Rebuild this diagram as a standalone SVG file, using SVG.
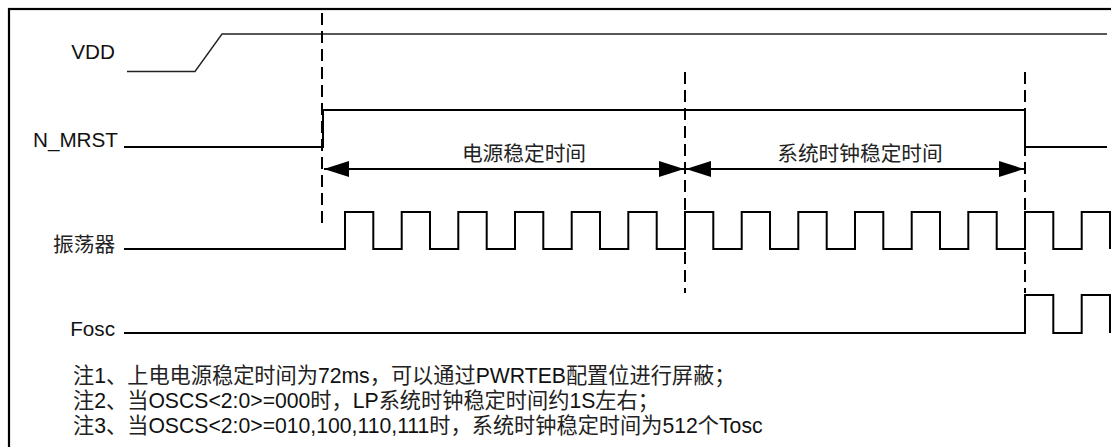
<svg xmlns="http://www.w3.org/2000/svg" width="1111" height="447" viewBox="0 0 1111 447">
<style>
.lbl{font-family:"Liberation Sans","Noto Sans CJK SC",sans-serif;font-size:20.7px;fill:#111}
.cjk{font-family:"Noto Sans CJK SC","Liberation Sans",sans-serif;font-size:20.7px;fill:#222}
.note{font-family:"Liberation Sans","Noto Sans CJK SC",sans-serif;font-size:21.2px;fill:#111}
.note .zh{fill:#222}
.wave{fill:none;stroke:#000;stroke-width:2}
.vdd{fill:none;stroke:#222;stroke-width:1.4}
.dash{fill:none;stroke:#000;stroke-width:2;stroke-dasharray:12 6}
.dim{fill:none;stroke:#000;stroke-width:2;marker-start:url(#ah);marker-end:url(#ah)}
</style>
<defs>
<marker id="ah" markerUnits="userSpaceOnUse" markerWidth="26" markerHeight="18" refX="25" refY="8" orient="auto-start-reverse">
<path d="M0,0 L25,8 L0,16 Z" fill="#000"/>
</marker>
</defs>
<rect x="0" y="0" width="1111" height="447" fill="#fff"/>
<rect id="frame" x="9" y="9" width="1140" height="480" fill="none" stroke="#000" stroke-width="2.2"/>

<g id="sig-vdd">
<text class="lbl" x="115" y="59" text-anchor="end">VDD</text>
<path class="vdd" d="M127 71.5 H195 L222 34 H1107"/>
</g>

<g id="sig-nmrst">
<text class="lbl" x="118" y="147" text-anchor="end">N_MRST</text>
<path class="wave" d="M124 147 H323 V110 H1025 V147 H1107"/>
</g>

<g id="sig-osc">
<text class="cjk" x="53" y="252">振荡器</text>
<path class="wave" d="M124 249 H345 V212 H373.3 V249 H401.7 V212 H430 V249 H458.3 V212 H486.7 V249 H515 V212 H543.3 V249 H571.7 V212 H600 V249 H628.3 V212 H656.7 V249 H685 V212 H713.3 V249 H741.7 V212 H770 V249 H798.3 V212 H826.7 V249 H855 V212 H883.3 V249 H911.7 V212 H940 V249 H968.3 V212 H996.7 V249 H1025 V212 H1053.3 V249 H1081.7 V212 H1110 V249"/>
</g>

<g id="sig-fosc">
<text class="lbl" x="115" y="336" text-anchor="end">Fosc</text>
<path class="wave" d="M124 333 H1025 V295 H1053.3 V333 H1081.7 V295 H1110 V333"/>
</g>

<g id="connectors">
<line class="dash" x1="322" y1="13" x2="322" y2="223"/>
<line class="dash" x1="685" y1="72" x2="685" y2="293"/>
<line class="dash" x1="1025" y1="72" x2="1025" y2="293"/>
<line class="dim" x1="324" y1="169" x2="684" y2="169"/>
<line class="dim" x1="686" y1="169" x2="1024" y2="169"/>
</g>

<g id="label-power">
<text class="cjk" x="524" y="161" text-anchor="middle">电源稳定时间</text>
</g>
<g id="label-clock">
<text class="cjk" x="860" y="161" text-anchor="middle">系统时钟稳定时间</text>
</g>

<g id="notes">
<text class="note" x="73" y="383"><tspan class="zh">注</tspan>1<tspan class="zh">、上电电源稳定时间为</tspan>72ms<tspan class="zh">，可以通过</tspan>PWRTEB<tspan class="zh">配置位进行屏蔽；</tspan></text>
<text class="note" x="73" y="408"><tspan class="zh">注</tspan>2<tspan class="zh">、当</tspan>OSCS&lt;2:0&gt;=000<tspan class="zh">时，</tspan>LP<tspan class="zh">系统时钟稳定时间约</tspan>1S<tspan class="zh">左右；</tspan></text>
<text class="note" x="73" y="433"><tspan class="zh">注</tspan>3<tspan class="zh">、当</tspan>OSCS&lt;2:0&gt;=010,100,110,111<tspan class="zh">时，系统时钟稳定时间为</tspan>512<tspan class="zh">个</tspan>Tosc</text>
</g>
</svg>
